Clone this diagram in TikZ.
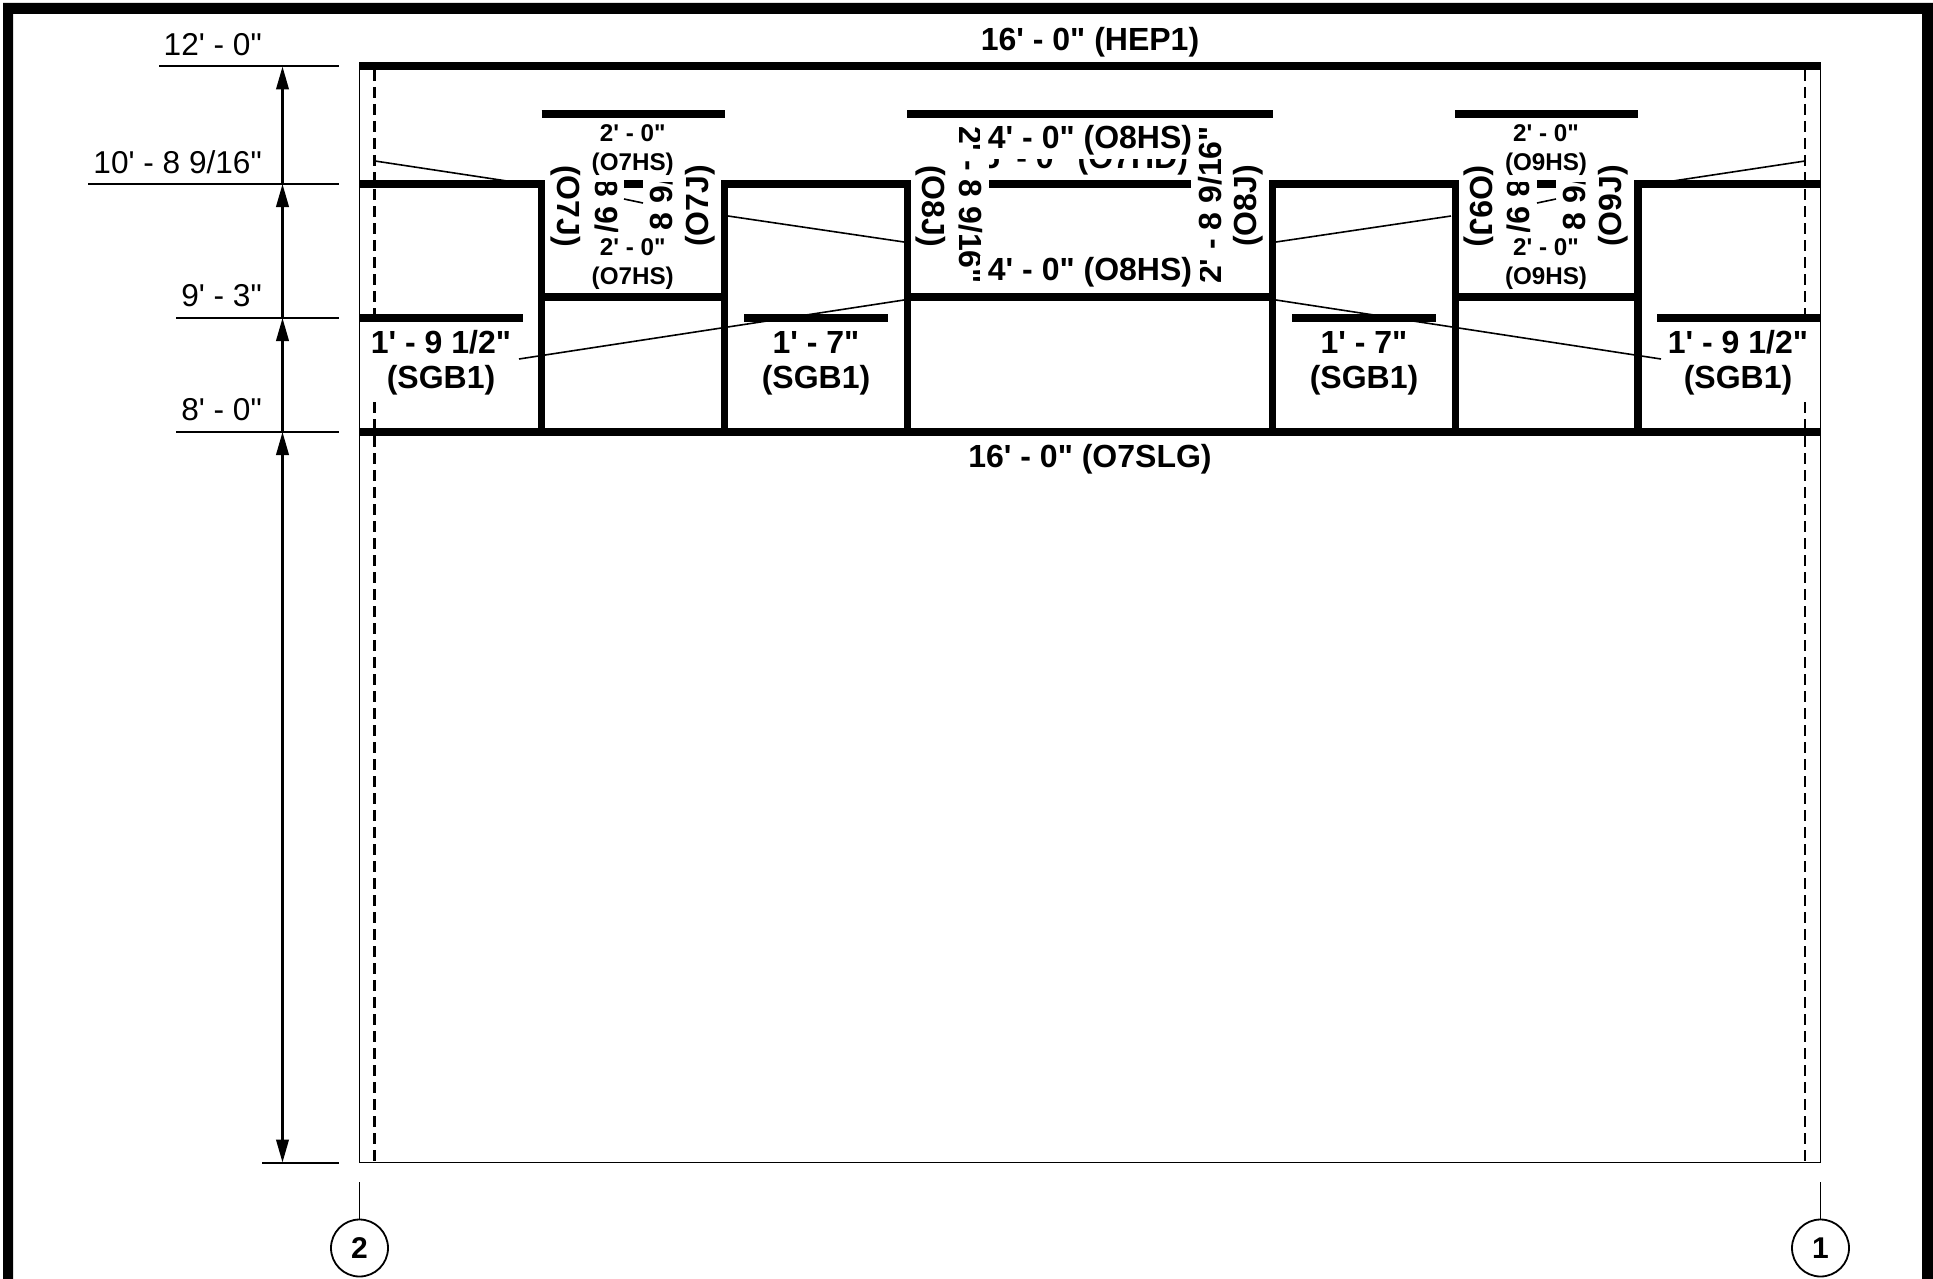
\documentclass[tikz,border=0pt]{standalone}
\usepackage{fontspec}
\newfontfamily\lib{Liberation Sans}
\usetikzlibrary{arrows.meta}
\tikzset{
  x=1pt,y=-1pt,
  beam/.style={line width=7.2pt,line cap=butt},
  thinline/.style={line width=1.6pt},
  dimline/.style={line width=2pt},
  dimarrow/.style={line width=2.4pt,-{Triangle[length=23pt,width=12.5pt]}},
  dimboth/.style={line width=2.4pt,{Triangle[length=23pt,width=12.5pt]}-{Triangle[length=23pt,width=12.5pt]}},
  dashline/.style={line width=2.4pt,dash pattern=on 11pt off 6pt},
  big/.style={font=\lib\fontsize{32}{35}\selectfont\bfseries,inner sep=0pt,align=center},
  small/.style={font=\lib\fontsize{24.2}{29.5}\selectfont\bfseries,inner sep=0pt,align=center},
  dimtext/.style={font=\lib\fontsize{31.6}{35}\selectfont,inner sep=0pt,anchor=base east},
  bubble/.style={circle,draw,line width=1.8pt,minimum size=57pt,inner sep=0pt,font=\lib\fontsize{30}{30}\selectfont\bfseries},
}
\begin{document}
\begin{tikzpicture}
\useasboundingbox (0,0) rectangle (1933,1279);
% frame
\fill (3,1279) -- (3,3) -- (1933,3) -- (1933,1279) -- (1922,1279) -- (1922,14) -- (13,14) -- (13,1279) -- cycle;
% outline
\draw[thinline] (359.5,66) -- (359.5,1162.5) -- (1820.5,1162.5) -- (1820.5,66);
% dashed
\draw[dashline] (374.5,70) -- (374.5,324);
\draw[dashline] (374.5,402) -- (374.5,1162);
\draw[dashline] (1805,70) -- (1805,324);
\draw[dashline] (1805,402) -- (1805,1162);
% beams
\draw[beam] (359,66) -- (1821,66);
\draw[beam] (359,432) -- (1821,432);
\draw[beam] (359,184) -- (545.3,184);
\draw[beam] (721.1,184) -- (910.9,184);
\draw[beam] (1269.1,184) -- (1459,184);
\draw[beam] (1634.3,184) -- (1821,184);
\draw[beam] (624,184) -- (643,184);
\draw[beam] (989,184) -- (1191,184);
\draw[beam] (1537,184) -- (1556,184);
\foreach \a/\b in {541.7/724.7,907.3/1272.7,1455.4/1637.9}{
  \draw[beam] (\a,114) -- (\b,114);
  \draw[beam] (\a,297) -- (\b,297);
  \draw[beam] (\a,184) -- (\a,432);
  \draw[beam] (\b,184) -- (\b,432);
}
\draw[beam] (359,318) -- (523,318);
\draw[beam] (744,318) -- (888,318);
\draw[beam] (1292,318) -- (1436,318);
\draw[beam] (1657,318) -- (1821,318);
% leaders
\draw[thinline] (375,161) -- (507,181);
\draw[thinline] (1805,161) -- (1673,181);
\draw[thinline] (728,216) -- (904,242);
\draw[thinline] (1451,216) -- (1276,242);
\draw[thinline] (519,359) -- (904,300);
\draw[thinline] (1661,359) -- (1276,300);
\draw[thinline] (624,199) -- (643,203);
\draw[thinline] (1537,203) -- (1556,199);
% dimensions
\coordinate (d12) at (282.5,66.5);
\coordinate (d10) at (282.5,184);
\coordinate (d9) at (282.5,318);
\coordinate (d8) at (282.5,432);
\coordinate (d0) at (282.5,1162.5);
\draw[dimline] (159,66.5) -- (339,66.5);
\draw[dimline] (88,184) -- (339,184);
\draw[dimline] (176,318) -- (339,318);
\draw[dimline] (176,432) -- (339,432);
\draw[dimline] (262,1162.5) -- (339,1162.5);
\draw[dimarrow] (d10) -- (d12);
\draw[dimarrow] (d9) -- (d10);
\draw[dimarrow] (d8) -- (d9);
\draw[dimboth] (d8) -- (d0);
\node[dimtext] (t12) at (262,55.6) {12' - 0"};
\node[dimtext] (t10) at (262,173) {10' - 8 9/16"};
\node[dimtext] (t9) at (262,306.7) {9' - 3"};
\node[dimtext] (t8) at (262,420) {8' - 0"};
% main labels
\node[big,anchor=base] (hep) at (1090,51) {16' - 0" (HEP1)};
\node[big,anchor=base] (slg) at (1090,467) {16' - 0" (O7SLG)};
\node[big,anchor=base] (sgba) at (441,388) {1' - 9 1/2"\\(SGB1)};
\node[big,anchor=base] (sgbb) at (816,388) {1' - 7"\\(SGB1)};
\node[big,anchor=base] (sgbc) at (1364,388) {1' - 7"\\(SGB1)};
\node[big,anchor=base] (sgbd) at (1738,388) {1' - 9 1/2"\\(SGB1)};
% small labels
\node[small,anchor=base] (h7a) at (632.7,171) {2' - 0"\\(O7HS)};
\node[small,anchor=base] (h7b) at (632.7,284.5) {2' - 0"\\(O7HS)};
\node[small,anchor=base] (h9a) at (1546,171) {2' - 0"\\(O9HS)};
\node[small,anchor=base] (h9b) at (1546,284.5) {2' - 0"\\(O9HS)};
\node[big,anchor=base] (h8a) at (1090,149) {4' - 0" (O8HS)};
\node[big,anchor=base] (h8b) at (1090,280.7) {4' - 0" (O8HS)};
% hidden remnant
\begin{scope}
\clip (989,160) rectangle (1191,175);
\node[big,anchor=base] (h7d) at (1085,168.5) {5' - 0" (O7HD)};
\end{scope}
% jamb labels
\node[big,rotate=-90] (j7a) at (566,206) {(O7J)};
\node[big,rotate=90] (j7b) at (700,206) {(O7J)};
\node[big,rotate=-90] (j8a) at (931,206) {(O8J)};
\node[big,rotate=90] (j8b) at (1248,206) {(O8J)};
\node[big,rotate=-90] (j9a) at (1479,206) {(O9J)};
\node[big,rotate=90] (j9b) at (1613,206) {(O9J)};
% clipped rotated sizes
\begin{scope}
\clip (585,182) rectangle (625,231);
\node[big,rotate=-90,anchor=base] (s7a) at (595,205) {2' - 8 9/16"};
\end{scope}
\begin{scope}
\clip (640,182) rectangle (680,231);
\node[big,rotate=90,anchor=base] (s7b) at (672,205) {2' - 8 9/16"};
\end{scope}
\begin{scope}
\clip (1500,182) rectangle (1535,231);
\node[big,rotate=-90,anchor=base] (s9a) at (1507.5,205) {2' - 8 9/16"};
\end{scope}
\begin{scope}
\clip (1555,182) rectangle (1590,231);
\node[big,rotate=90,anchor=base] (s9b) at (1585,205) {2' - 8 9/16"};
\end{scope}
\begin{scope}
\clip (950,120) -- (979,120) -- (979,160) -- (986,160) -- (986,255) -- (979,255) -- (979,295) -- (950,295) -- cycle;
\node[big,rotate=-90,anchor=base] (s8a) at (959,205) {2' - 8 9/16"};
\end{scope}
\begin{scope}
\clip (1230,120) -- (1195,120) -- (1195,255) -- (1200,255) -- (1200,295) -- (1230,295) -- cycle;
\node[big,rotate=90,anchor=base] (s8b) at (1221,205) {2' - 8 9/16"};
\end{scope}
% grid bubbles
\node[bubble] (g2) at (359.5,1248) {2};
\node[bubble] (g1) at (1820.5,1248) {1};
\coordinate (g2top) at (359.5,1182);
\coordinate (g1top) at (1820.5,1182);
\draw[thinline] (g2top) -- (g2);
\draw[thinline] (g1top) -- (g1);
\end{tikzpicture}
\end{document}
